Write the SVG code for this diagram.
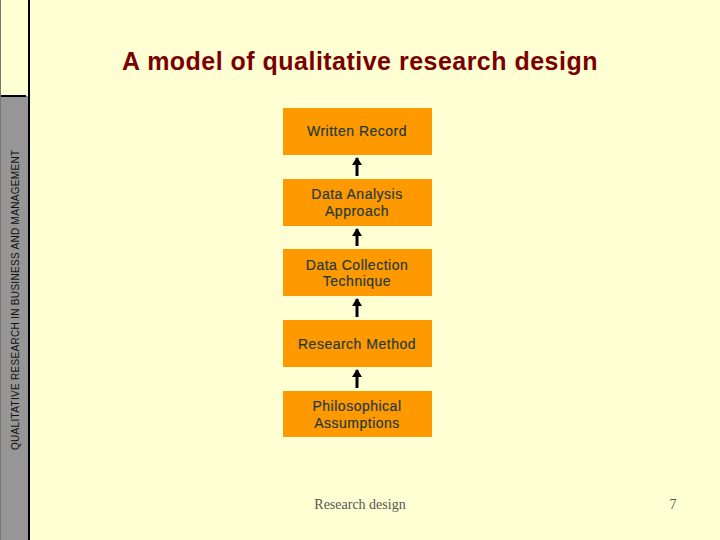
<svg xmlns="http://www.w3.org/2000/svg" width="720" height="540" viewBox="0 0 720 540">
<style>
.n{fill:#ff9900}
.t{font-family:"Liberation Sans",Arial,sans-serif;font-size:14px;letter-spacing:.5px;fill:#1f3a3a;stroke:#1f3a3a;stroke-width:.2px;text-anchor:middle}
.c{stroke:#000;stroke-width:3;fill:none;marker-end:url(#a)}
</style>
<defs><marker id="a" markerUnits="userSpaceOnUse" markerWidth="8" markerHeight="12" refX="7" refY="6" orient="auto"><path d="M0 1L8 6L0 11Z" fill="#000"/></marker></defs>
<rect width="720" height="540" fill="#ffffd4"/>
<g id="sidebar">
<rect x="1" y="96" width="27" height="444" fill="#969696"/>
<rect x="1" y="95" width="25" height="2" fill="#000"/>
<rect x="0" y="0" width="1" height="540" fill="#777"/>
<rect x="28" y="0" width="2" height="540" fill="#000"/>
<text transform="translate(19,450) rotate(-90)" font-family="Liberation Sans,Arial,sans-serif" font-size="10" letter-spacing=".31" fill="#111">QUALITATIVE RESEARCH IN BUSINESS AND MANAGEMENT</text>
</g>
<text id="title" x="360" y="70" font-family="Liberation Sans,Arial,sans-serif" font-size="25" font-weight="700" letter-spacing=".48" fill="#7a0000" text-anchor="middle">A model of qualitative research design</text>
<g id="connectors">
<path class="c" d="M357 176V158"/>
<path class="c" d="M357 246V229"/>
<path class="c" d="M357 317V299"/>
<path class="c" d="M357 388V370"/>
</g>
<g id="written-record"><rect class="n" x="283" y="108" width="149" height="47"/><text class="t" x="357" y="136">Written Record</text></g>
<g id="data-analysis"><rect class="n" x="283" y="179" width="149" height="47"/><text class="t" x="357" y="199">Data Analysis</text><text class="t" x="357" y="216">Approach</text></g>
<g id="data-collection"><rect class="n" x="283" y="249" width="149" height="47"/><text class="t" x="357" y="270">Data Collection</text><text class="t" x="357" y="286">Technique</text></g>
<g id="research-method"><rect class="n" x="283" y="320" width="149" height="47"/><text class="t" x="357" y="349">Research Method</text></g>
<g id="philosophical"><rect class="n" x="283" y="391" width="149" height="46"/><text class="t" x="357" y="411">Philosophical</text><text class="t" x="357" y="428">Assumptions</text></g>
<text id="footer" x="360" y="509" font-family="Liberation Serif,Times New Roman,serif" font-size="14" fill="#555" text-anchor="middle">Research design</text>
<text id="page" x="673" y="509" font-family="Liberation Serif,Times New Roman,serif" font-size="14" fill="#555" text-anchor="middle">7</text>
</svg>
